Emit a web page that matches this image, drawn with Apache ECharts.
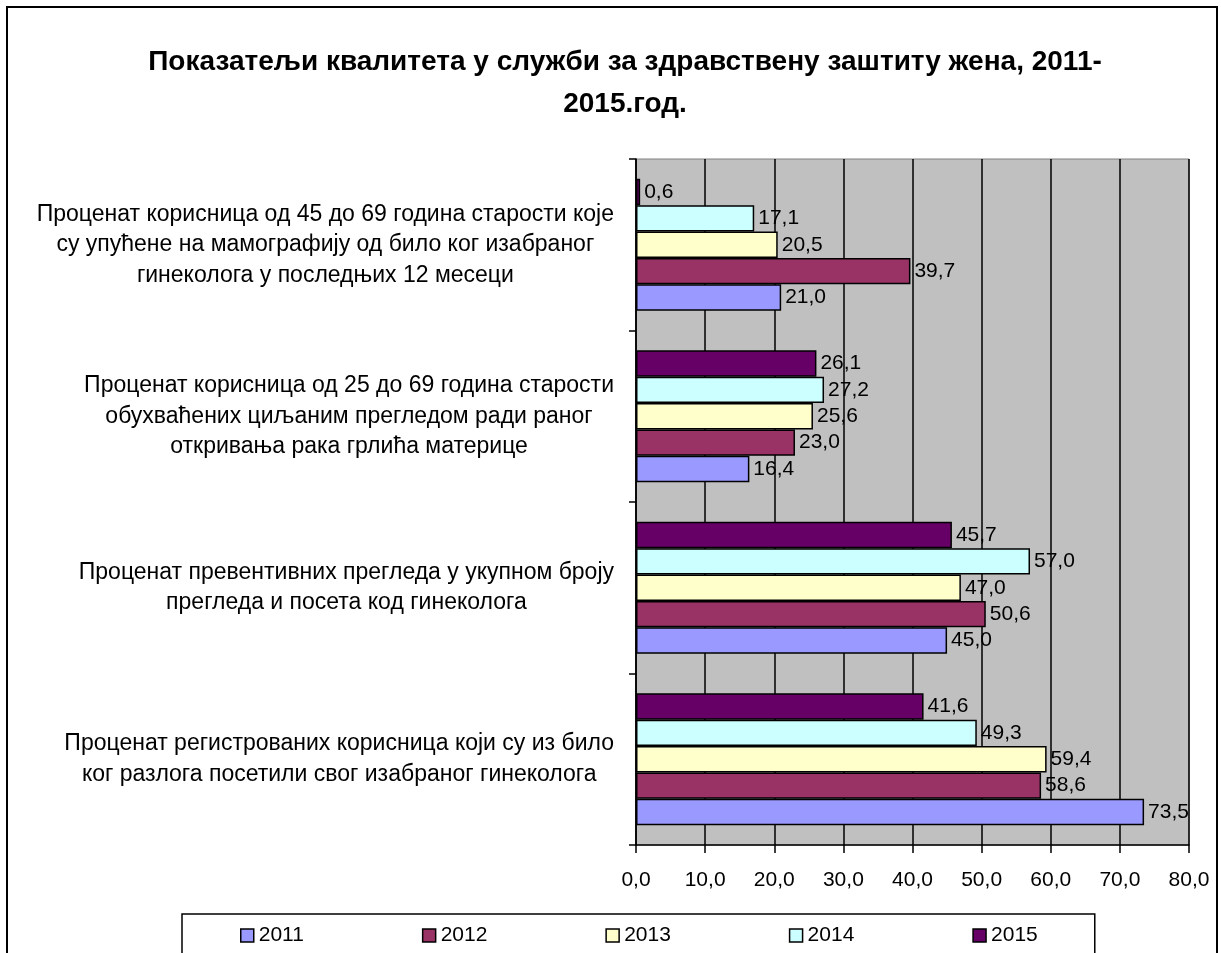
<!DOCTYPE html>
<html>
<head>
<meta charset="utf-8">
<script src="https://cdn.jsdelivr.net/npm/echarts@6/dist/echarts.min.js"></script>
<style>
  html, body { margin: 0; padding: 0; background: #fff; }
  #main { width: 1221px; height: 953px; }
</style>
</head>
<body>
<div id="main"></div>
<script>
// категорије (одоздо нагоре, као у Excel-у)
var categories = [
  'Проценат регистрованих корисница који су из било\nког разлога посетили свог изабраног гинеколога',
  'Проценат превентивних прегледа у укупном броју\nпрегледа и посета код гинеколога',
  'Проценат корисница од 25 до 69 година старости\nобухваћених циљаним прегледом ради раног\nоткривања рака грлића материце',
  'Проценат корисница од 45 до 69 година старости које\nсу упућене на мамографију од било ког изабраног\nгинеколога у последњих 12 месеци'
];
var years = ['2011', '2012', '2013', '2014', '2015'];
var v2011 = [73.5, 45.0, 16.4, 21.0];
var v2012 = [58.6, 50.6, 23.0, 39.7];
var v2013 = [59.4, 47.0, 25.6, 20.5];
var v2014 = [49.3, 57.0, 27.2, 17.1];
var v2015 = [41.6, 45.7, 26.1, 0.6];
var xTicks = [0, 10, 20, 30, 40, 50, 60, 70, 80];

var colors = ['#9999FF', '#993366', '#FFFFCC', '#CCFFFF', '#660066'];
var values = [v2011, v2012, v2013, v2014, v2015];
var font = 'Arial, "Liberation Sans", sans-serif';

function fmt(v) {
  return v.toFixed(1).replace('.', ',');
}

var chart = echarts.init(document.getElementById('main'));

// у ECharts-у прва серија иде на врх групе, па се редослед обрће (2011 доле)
var series = [];
for (var i = years.length - 1; i >= 0; i--) {
  series.push({
    name: years[i],
    type: 'bar',
    data: values[i],
    barGap: '0%',
    barCategoryGap: '23%',
    itemStyle: {
      color: colors[i],
      borderColor: '#000',
      borderWidth: 1.5
    },
    label: {
      show: true,
      position: 'right',
      distance: 4,
      color: '#000',
      fontFamily: font,
      fontSize: 21,
      formatter: function (p) { return fmt(p.value); }
    }
  });
}

var option = {
  animation: false,
  backgroundColor: '#fff',
  textStyle: { fontFamily: font },
  title: {
    text: 'Показатељи квалитета у служби за здравствену заштиту жена, 2011-\n2015.год.',
    left: 620,
    top: 36,
    textAlign: 'center',
    textStyle: {
      fontFamily: font,
      fontSize: 28,
      fontWeight: 'bold',
      color: '#000',
      lineHeight: 42
    }
  },
  graphic: [{
    type: 'rect',
    shape: { x: 7, y: 7, width: 1210, height: 980 },
    style: { fill: null, stroke: '#000', lineWidth: 2 },
    silent: true
  }],
  legend: {
    data: years,
    left: 182,
    top: 914,
    padding: [11, 57, 11, 58],
    itemWidth: 13,
    itemHeight: 13,
    itemGap: 118,
    borderColor: '#000',
    borderWidth: 1.5,
    icon: 'rect',
    itemStyle: { borderColor: '#000', borderWidth: 1.5 },
    textStyle: { fontFamily: font, fontSize: 21, color: '#000' }
  },
  grid: {
    left: 636,
    right: 32,
    top: 159,
    bottom: 108,
    show: true,
    backgroundColor: '#C0C0C0',
    borderColor: '#808080',
    borderWidth: 1
  },
  xAxis: {
    type: 'value',
    min: 0,
    max: 80,
    interval: 10,
    axisLine: { show: true, lineStyle: { color: '#000', width: 1.5 } },
    axisTick: { show: true, inside: false, length: 8, lineStyle: { color: '#000', width: 1.5 } },
    splitLine: { show: true, lineStyle: { color: '#000', width: 1.5 } },
    axisLabel: {
      margin: 25,
      color: '#000',
      fontFamily: font,
      fontSize: 21,
      customValues: xTicks,
      formatter: function (v) { return fmt(v); }
    }
  },
  yAxis: {
    type: 'category',
    data: categories,
    axisLine: { show: true, lineStyle: { color: '#000', width: 1.5 } },
    axisTick: { show: true, length: 7, lineStyle: { color: '#000', width: 1.5 } },
    splitLine: { show: false },
    axisLabel: {
      margin: 22,
      color: '#000',
      formatter: function (v) {
        return v.split('\n').map(function (l) { return '{c|' + l + '}'; }).join('\n');
      },
      rich: {
        c: {
          align: 'center',
          fontFamily: font,
          fontSize: 23,
          lineHeight: 30.5,
          color: '#000'
        }
      }
    }
  },
  series: series
};

chart.setOption(option);
</script>
</body>
</html>
